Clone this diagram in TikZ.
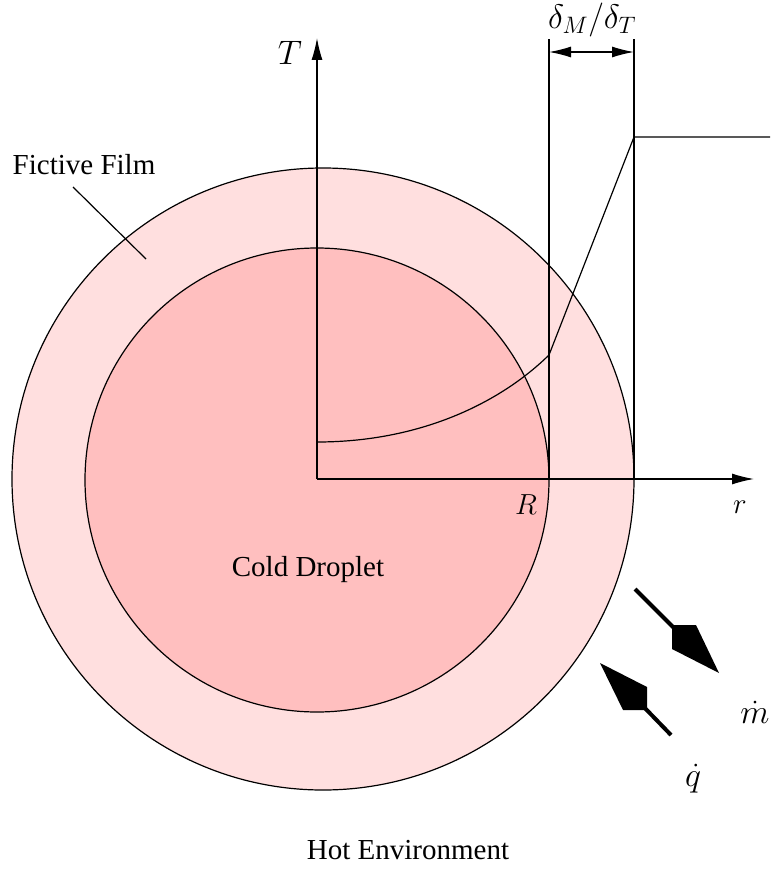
\RequirePackage{fix-cm}
\documentclass[tikz,border=0pt]{standalone}
\usepackage{fontspec}
\setmainfont{Liberation Serif}
\DeclareMathSizes{29}{29}{20.3}{14.5}
\DeclareMathSizes{34}{34}{23.8}{17}
\usetikzlibrary{arrows.meta}
\definecolor{filmcol}{RGB}{255,223,223}
\definecolor{dropcol}{RGB}{255,191,191}
\begin{document}
\begin{tikzpicture}[x=1pt,y=-1pt,line width=1.2pt,
  every node/.style={font=\fontsize{29}{34}\selectfont,inner sep=0pt},
  bigmath/.style={font=\fontsize{34}{40}\selectfont},
  tip/.style={-{Latex[length=22pt,width=11pt]}},
  dimline/.style={{Latex[length=22pt,width=11pt]}-{Latex[length=22pt,width=11pt]}},
  fluxline/.style={line width=4pt},
  kite/.style={fill=black}]
\useasboundingbox (0,0) rectangle (772,869);
% circles
\fill[filmcol,draw=black] (323,479) circle[radius=311pt];
\fill[dropcol,draw=black] (317,480) circle[radius=232pt];
% coordinates
\coordinate (O) at (317,479);
\coordinate (Ttop) at (317,38);
\coordinate (rend) at (754,479);
\coordinate (RA) at (549,479);
\coordinate (RAtop) at (549,39);
\coordinate (RB) at (634,479);
\coordinate (RBtop) at (634,39);
\coordinate (DA) at (549,52);
\coordinate (DB) at (634,52);
\coordinate (P0) at (317,442);
\coordinate (P1) at (549,355);
\coordinate (P2) at (634,137);
\coordinate (P3) at (770,137);
% axes
\draw[tip] (O) -- (Ttop);
\draw[tip] (O) -- (rend);
\draw (RA) -- (RAtop);
\draw (RB) -- (RBtop);
\draw[dimline] (DA) -- (DB);
% temperature profile
\draw (P0) .. controls (420,442) and (500,403) .. (P1) -- (P2) -- (P3);
% labels
\node[bigmath] (Tl) at (290,53) {$T$};
\node (rl) at (740,507) {$r$};
\node (Rl) at (526,505) {$R$};
\node[bigmath] (dl) at (592,20) {$\delta_M/\delta_T$};
\node (ff) at (84,165) {Fictive Film};
\coordinate (ffa) at (73,187);
\coordinate (ffb) at (146,259);
\draw (ffa) -- (ffb);
\node (cd) at (308,570) {Cold Droplet};
\node (he) at (408,850) {Hot Environment};
% mass flux arrow
\coordinate (ma) at (635,589);
\coordinate (mb) at (680,634);
\draw[fluxline] (ma) -- (mb);
\fill[kite] (672,625) -- (696,625) -- (719,673) -- (672,649) -- cycle;
\node[bigmath] (ml) at (755,712) {$\dot m$};
% heat flux arrow
\coordinate (qa) at (671,735);
\coordinate (qb) at (640,703);
\draw[fluxline] (qa) -- (qb);
\fill[kite] (647,710) -- (647,687) -- (600,663) -- (623,710) -- cycle;
\node[bigmath] (ql) at (693,779) {$\dot q$};
\end{tikzpicture}
\end{document}
